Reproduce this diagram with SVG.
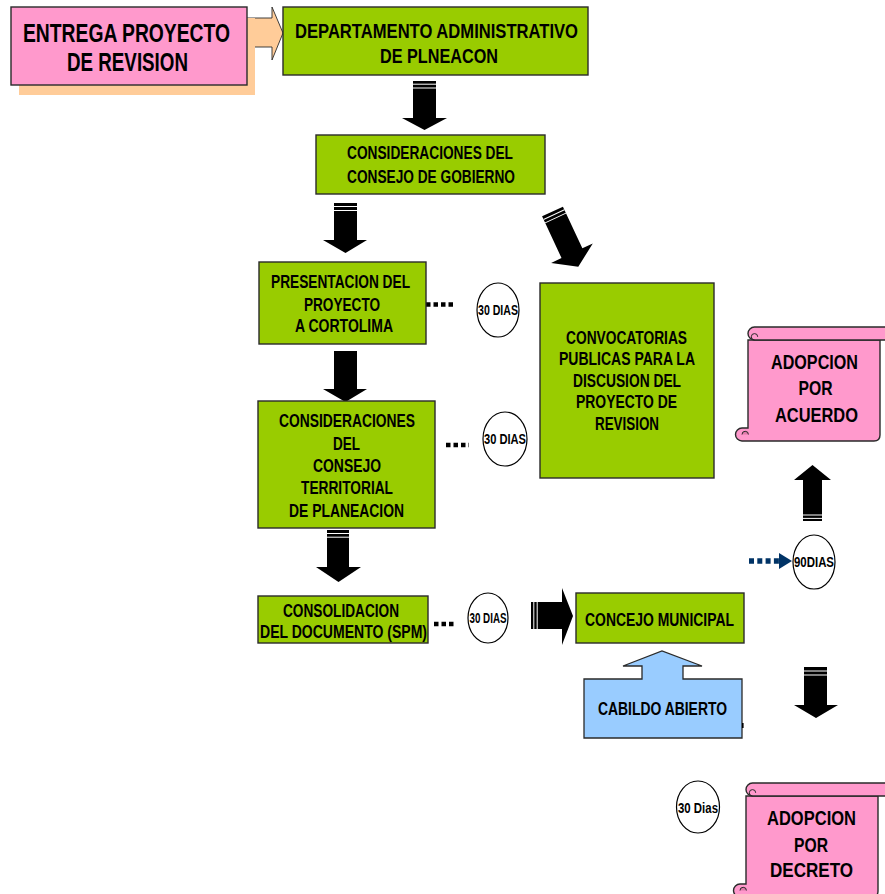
<svg xmlns="http://www.w3.org/2000/svg" width="885" height="894" viewBox="0 0 885 894">
  <style>
    .box { fill:#99CC00; stroke:#2a2a2a; stroke-width:1.4; }
    .pink { fill:#FF99CC; stroke:#2a2a2a; stroke-width:1.4; }
    .t { font-family:"Liberation Sans Narrow","Arial Narrow","Liberation Sans",Arial,sans-serif; font-weight:bold; fill:#000; text-anchor:middle; }
    .s17 { font-size:18px; }
    .s20 { font-size:21px; }
    .s13 { font-size:14px; }
    .arrow { fill:#000; }
    .stripe { stroke:#fff; stroke-width:1; }
    .circ { fill:#fff; stroke:#000; stroke-width:1.2; }
    .dots { stroke:#000; stroke-width:4.5; stroke-dasharray:4.5 3; fill:none; }
  </style>
  <defs>
    <!-- vertical scroll outline, drawn for the upper scroll; the lower one reuses it shifted -->
    <g id="scroll">
      <path class="pink" d="M748,340 H880 V435 Q880,441 874,441 H742 A6.5,6.5 0 0 1 742,428 H748 Z"/>
      <path fill="#E07AAA" stroke="#2a2a2a" stroke-width="1" d="M742,434.5 A3.2,3.2 0 0 1 745.2,431.3 A3.2,3.2 0 0 1 748.4,434.5"/>
      <rect class="pink" x="748" y="327" width="150" height="13" rx="6.5"/>
      <path fill="none" stroke="#2a2a2a" stroke-width="1" d="M754.5,340 A3.2,3.2 0 0 1 754.5,333.6 A3.2,3.2 0 0 1 757.7,336.8"/>
    </g>
  </defs>

  <!-- connectors -->
  <g id="connectors">
    <!-- block arrow from the delivery box -->
    <path d="M245,18 H272 V7 L283,33 L272,60 V47 H245 Z" fill="#FFCC99" stroke="#2a2a2a" stroke-width="0.9"/>
    <rect x="245" y="18" width="2.6" height="29" fill="#000"/>
    <rect x="248.6" y="18" width="1.8" height="29" fill="#000"/>

    <!-- down arrow: department -> council of government -->
    <path class="arrow" d="M413,81 H436 V118 H447 L424.5,130 L402,118 H413 Z"/>
    <line class="stripe" x1="413" y1="84.2" x2="436" y2="84.2"/>
    <line class="stripe" x1="413" y1="88" x2="436" y2="88"/>

    <!-- down arrow: council of government -> presentation -->
    <path class="arrow" d="M334,203 H357 V240 H367 L345.5,253 L323,240 H334 Z"/>
    <line class="stripe" x1="334" y1="206.5" x2="357" y2="206.5"/>
    <line class="stripe" x1="334" y1="210.5" x2="357" y2="210.5"/>

    <!-- diagonal arrow: council of government -> public calls -->
    <g transform="translate(552.5,211.5) rotate(-25)">
      <path class="arrow" d="M-11.5,0 H11.5 V46 H23 L0,61 L-23,46 H-11.5 Z"/>
      <line class="stripe" x1="-11.5" y1="3.5" x2="11.5" y2="3.5"/>
      <line class="stripe" x1="-11.5" y1="7.2" x2="11.5" y2="7.2"/>
    </g>

    <!-- down arrow: presentation -> territorial council -->
    <path class="arrow" d="M334,351 H357 V389 H367 L345.5,402 L323,389 H334 Z"/>

    <!-- down arrow: territorial council -> consolidation -->
    <path class="arrow" d="M327,530 H349 V567 H361 L338.5,582 L316,567 H327 Z"/>
    <line class="stripe" x1="327" y1="533.5" x2="349" y2="533.5"/>
    <line class="stripe" x1="327" y1="537.2" x2="349" y2="537.2"/>

    <!-- dotted leaders to the 30-day marks -->
    <line class="dots" x1="426" y1="304.5" x2="454" y2="304.5"/>
    <line class="dots" x1="446" y1="445" x2="469" y2="445"/>
    <line class="dots" x1="434" y1="624" x2="456" y2="624"/>

    <!-- right arrow: consolidation -> municipal council -->
    <path class="arrow" d="M531,602 H562 V588 L573,616 L562,645 V629 H531 Z"/>
    <line class="stripe" x1="533.8" y1="602" x2="533.8" y2="629"/>
    <line class="stripe" x1="537.2" y1="602" x2="537.2" y2="629"/>

    <!-- up arrow: toward adoption by agreement -->
    <path class="arrow" d="M803,521 V480 H794 L812.5,465 L831,480 H822 V521 Z"/>
    <line class="stripe" x1="803" y1="515" x2="822" y2="515"/>
    <line class="stripe" x1="803" y1="518.4" x2="822" y2="518.4"/>

    <!-- dotted navy arrow into the 90-day mark -->
    <line x1="749" y1="561" x2="780" y2="561" stroke="#003366" stroke-width="5.5" stroke-dasharray="5 3.3"/>
    <path d="M779,553 L792,561 L779,569 Z" fill="#003366"/>

    <!-- down arrow: toward adoption by decree -->
    <path class="arrow" d="M804,667 H827 V705 H838 L816,718 L794,705 H804 Z"/>
    <line class="stripe" x1="804" y1="671" x2="827" y2="671"/>
    <line class="stripe" x1="804" y1="675" x2="827" y2="675"/>
  </g>

  <g id="entrega">
    <rect x="19" y="18" width="236" height="77" fill="#FFCC99"/>
    <rect class="pink" x="11" y="7" width="236" height="78"/>
    <text class="t" font-size="25" x="126.5" y="42" textLength="207" lengthAdjust="spacingAndGlyphs">ENTREGA PROYECTO</text>
    <text class="t" font-size="25" x="127.5" y="71" textLength="121" lengthAdjust="spacingAndGlyphs">DE REVISION</text>
  </g>

  <g id="departamento">
    <rect class="box" x="283" y="7" width="305" height="68"/>
    <text class="t s20" x="436.5" y="38" textLength="283" lengthAdjust="spacingAndGlyphs">DEPARTAMENTO ADMINISTRATIVO</text>
    <text class="t s20" x="439" y="63" textLength="118" lengthAdjust="spacingAndGlyphs">DE PLNEACON</text>
  </g>

  <g id="consejo-gobierno">
    <rect class="box" x="316" y="135" width="229" height="59"/>
    <text class="t s17" x="430" y="159" textLength="166" lengthAdjust="spacingAndGlyphs">CONSIDERACIONES DEL</text>
    <text class="t s17" x="431" y="183" textLength="168" lengthAdjust="spacingAndGlyphs">CONSEJO DE GOBIERNO</text>
  </g>

  <g id="presentacion">
    <rect class="box" x="259" y="262" width="167" height="82"/>
    <text class="t s17" x="340.5" y="288" textLength="139" lengthAdjust="spacingAndGlyphs">PRESENTACION DEL</text>
    <text class="t s17" x="342" y="311" textLength="76" lengthAdjust="spacingAndGlyphs">PROYECTO</text>
    <text class="t s17" x="344" y="332" textLength="98" lengthAdjust="spacingAndGlyphs">A CORTOLIMA</text>
  </g>

  <g id="plazo-cortolima">
    <ellipse class="circ" cx="498" cy="310" rx="21" ry="27"/>
    <text class="t s13" x="498" y="314.5" textLength="40" lengthAdjust="spacingAndGlyphs">30 DIAS</text>
  </g>

  <g id="convocatorias">
    <rect class="box" x="540" y="283" width="174" height="195"/>
    <text class="t s17" x="626.5" y="344" textLength="121" lengthAdjust="spacingAndGlyphs">CONVOCATORIAS</text>
    <text class="t s17" x="627" y="365" textLength="136" lengthAdjust="spacingAndGlyphs">PUBLICAS PARA LA</text>
    <text class="t s17" x="627" y="387" textLength="108" lengthAdjust="spacingAndGlyphs">DISCUSION DEL</text>
    <text class="t s17" x="626.5" y="408" textLength="101" lengthAdjust="spacingAndGlyphs">PROYECTO DE</text>
    <text class="t s17" x="627" y="430" textLength="64" lengthAdjust="spacingAndGlyphs">REVISION</text>
  </g>

  <g id="consejo-territorial">
    <rect class="box" x="258" y="401" width="177" height="127"/>
    <text class="t s17" x="347" y="427" textLength="136" lengthAdjust="spacingAndGlyphs">CONSIDERACIONES</text>
    <text class="t s17" x="346.5" y="450" textLength="27" lengthAdjust="spacingAndGlyphs">DEL</text>
    <text class="t s17" x="347" y="472" textLength="68" lengthAdjust="spacingAndGlyphs">CONSEJO</text>
    <text class="t s17" x="347" y="494" textLength="92" lengthAdjust="spacingAndGlyphs">TERRITORIAL</text>
    <text class="t s17" x="346.5" y="517" textLength="115" lengthAdjust="spacingAndGlyphs">DE PLANEACION</text>
  </g>

  <g id="plazo-territorial">
    <ellipse class="circ" cx="505" cy="439" rx="22" ry="27"/>
    <text class="t s13" x="505" y="443.5" textLength="42" lengthAdjust="spacingAndGlyphs">30 DIAS</text>
  </g>

  <g id="consolidacion">
    <rect class="box" x="258" y="596" width="170" height="47"/>
    <text class="t s17" x="341" y="617" textLength="116" lengthAdjust="spacingAndGlyphs">CONSOLIDACION</text>
    <text class="t s17" x="343.5" y="638" textLength="167" lengthAdjust="spacingAndGlyphs">DEL DOCUMENTO (SPM)</text>
  </g>

  <g id="plazo-consolidacion">
    <ellipse class="circ" cx="488" cy="618" rx="20" ry="25"/>
    <text class="t s13" x="488" y="623" textLength="37" lengthAdjust="spacingAndGlyphs">30 DIAS</text>
  </g>

  <g id="concejo">
    <rect class="box" x="576" y="593" width="168" height="50"/>
    <text class="t s17" x="659.5" y="626" textLength="149" lengthAdjust="spacingAndGlyphs">CONCEJO MUNICIPAL</text>
  </g>

  <g id="cabildo">
    <path d="M584,679 H642 V666 H623 L662,651 L702,666 H683 V679 H742 V738 H584 Z" fill="#99CCFF" stroke="#2a2a2a" stroke-width="1.3"/>
    <rect x="742" y="723" width="1.6" height="5" fill="#000"/>
    <text class="t s17" x="662.5" y="715" textLength="129" lengthAdjust="spacingAndGlyphs">CABILDO ABIERTO</text>
  </g>

  <g id="adopcion-acuerdo">
    <use href="#scroll"/>
    <text class="t s20" x="814.5" y="369" textLength="87" lengthAdjust="spacingAndGlyphs">ADOPCION</text>
    <text class="t s20" x="815.5" y="395" textLength="34" lengthAdjust="spacingAndGlyphs">POR</text>
    <text class="t s20" x="816.5" y="422" textLength="83" lengthAdjust="spacingAndGlyphs">ACUERDO</text>
  </g>

  <g id="plazo-acuerdo">
    <ellipse class="circ" cx="814" cy="562" rx="21" ry="27"/>
    <text class="t s13" x="814" y="567" textLength="40" lengthAdjust="spacingAndGlyphs">90DIAS</text>
  </g>

  <g id="plazo-decreto">
    <ellipse class="circ" cx="698" cy="807" rx="21.5" ry="26"/>
    <text class="t s13" x="698" y="813" textLength="40" lengthAdjust="spacingAndGlyphs">30 Dias</text>
  </g>

  <g id="adopcion-decreto">
    <use href="#scroll" transform="translate(-2,456)"/>
    <text class="t s20" x="811.5" y="825" textLength="89" lengthAdjust="spacingAndGlyphs">ADOPCION</text>
    <text class="t s20" x="811" y="852" textLength="34" lengthAdjust="spacingAndGlyphs">POR</text>
    <text class="t s20" x="811.5" y="877" textLength="83" lengthAdjust="spacingAndGlyphs">DECRETO</text>
  </g>
</svg>
